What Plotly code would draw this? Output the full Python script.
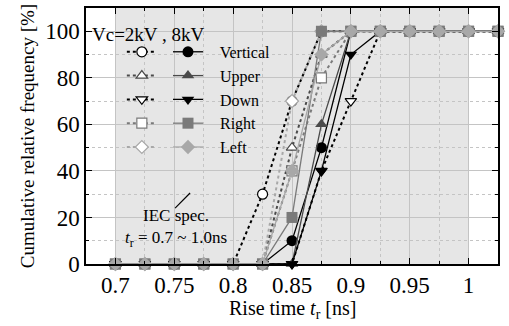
import plotly.graph_objects as go

# ---- data ----
rise_time = [0.7, 0.725, 0.75, 0.775, 0.8, 0.825, 0.85, 0.875, 0.9, 0.925, 0.95, 0.975, 1.0, 1.025]

series_names = ["Vertical", "Upper", "Down", "Right", "Left"]

# 2 kV (dotted, open markers)
v2_vertical = [0, 0, 0, 0, 0, 30, 70, 100, 100, 100, 100, 100, 100, 100]
v2_upper    = [0, 0, 0, 0, 0, 0, 50, 90, 100, 100, 100, 100, 100, 100]
v2_down     = [0, 0, 0, 0, 0, 0, 0, 40, 70, 100, 100, 100, 100, 100]
v2_right    = [0, 0, 0, 0, 0, 0, 40, 80, 100, 100, 100, 100, 100, 100]
v2_left     = [0, 0, 0, 0, 0, 0, 70, 100, 100, 100, 100, 100, 100, 100]

# 8 kV (solid, filled markers)
v8_vertical = [0, 0, 0, 0, 0, 0, 10, 50, 100, 100, 100, 100, 100, 100]
v8_upper    = [0, 0, 0, 0, 0, 0, 0, 60, 100, 100, 100, 100, 100, 100]
v8_down     = [0, 0, 0, 0, 0, 0, 0, 40, 90, 100, 100, 100, 100, 100]
v8_right    = [0, 0, 0, 0, 0, 0, 20, 100, 100, 100, 100, 100, 100, 100]
v8_left     = [0, 0, 0, 0, 0, 0, 40, 90, 100, 100, 100, 100, 100, 100]

x_ticks = [0.7, 0.75, 0.8, 0.85, 0.9, 0.95, 1.0]
x_tick_labels = ["0.7", "0.75", "0.8", "0.85", "0.9", "0.95", "1"]
y_ticks = [0, 20, 40, 60, 80, 100]
iec_spec = [0.7, 1.0]

# ---- styles ----
FONT = "Liberation Serif, Times New Roman, serif"
colors = {"Vertical": "#000000", "Upper": "#4a4a4a", "Down": "#000000",
          "Right": "#7a7a7a", "Left": "#a8a8a8"}
symbols = {"Vertical": "circle", "Upper": "triangle-up", "Down": "triangle-down",
           "Right": "square", "Left": "diamond"}

fig = go.Figure()

data2 = [v2_vertical, v2_upper, v2_down, v2_right, v2_left]
data8 = [v8_vertical, v8_upper, v8_down, v8_right, v8_left]

for name, ys in zip(series_names, data2):
    c = colors[name]
    fig.add_trace(go.Scatter(
        x=rise_time, y=ys, mode="lines+markers", name=" ",
        legend="legend", cliponaxis=False,
        line=dict(color=c, width=2, dash="3px,3px"),
        marker=dict(symbol=symbols[name], size=10, color="white",
                    line=dict(color=c, width=1.2)),
    ))

for name, ys in zip(series_names, data8):
    c = colors[name]
    fig.add_trace(go.Scatter(
        x=rise_time, y=ys, mode="lines+markers", name="   " + name,
        legend="legend2", cliponaxis=False,
        line=dict(color=c, width=1.3),
        marker=dict(symbol=symbols[name], size=11, color=c,
                    line=dict(color=c, width=0)),
    ))

fig.add_shape(type="rect", xref="x", yref="y",
              x0=iec_spec[0], x1=iec_spec[1], y0=0, y1=110,
              fillcolor="#e6e6e6", line=dict(width=0), layer="below")

# IEC annotation with leader line
fig.add_shape(type="line", xref="x", yref="y",
              x0=0.7507, y0=24, x1=0.7634, y1=30.5,
              line=dict(color="black", width=1.2))
fig.add_annotation(x=0.7515, y=15.5, xref="x", yref="y",
                   text="IEC spec.<br><i>t</i><sub>r</sub> = 0.7 ~ 1.0ns",
                   showarrow=False, align="center",
                   font=dict(family=FONT, size=17, color="black"))

fig.add_annotation(x=0.01, y=0.895, xref="paper", yref="paper",
                   xanchor="left", yanchor="middle", showarrow=False,
                   text="Vc=2kV , 8kV",
                   font=dict(family=FONT, size=19, color="black"))

# x-axis title placed as an annotation below the tick labels
fig.add_annotation(x=0.5, y=-0.178, xref="paper", yref="paper",
                   xanchor="center", yanchor="middle", showarrow=False,
                   text="Rise time <i>t</i><sub>r</sub> [ns]",
                   font=dict(family=FONT, size=20, color="black"))

axis_common = dict(
    showline=True, linecolor="black", linewidth=1.5, mirror="ticks",
    ticks="inside", ticklen=6, tickcolor="black", tickwidth=1,
    showgrid=True, gridcolor="#c4c4c4", gridwidth=1,
    zeroline=False, automargin=False,
    tickfont=dict(family=FONT, size=23, color="black"),
)

fig.update_xaxes(
    range=[0.675, 1.025], tickvals=x_ticks, ticktext=x_tick_labels,
    minor=dict(dtick=0.025, tick0=0.675, showgrid=True, gridcolor="#c4c4c4",
               griddash="dot", gridwidth=1, ticks="inside", ticklen=3,
               tickcolor="black"),
    **axis_common)

fig.update_yaxes(
    range=[0, 110], tickvals=y_ticks,
    minor=dict(dtick=10, showgrid=True, gridcolor="#c4c4c4",
               griddash="dot", gridwidth=1, ticks="inside", ticklen=3,
               tickcolor="black"),
    title=dict(text="Cumulative relative frequency [%]", standoff=6,
               font=dict(family=FONT, size=19, color="black")),
    **axis_common)

fig.update_layout(
    width=509, height=326,
    margin=dict(l=86, r=11, t=8, b=62),
    plot_bgcolor="white", paper_bgcolor="white",
    font=dict(family=FONT, color="black"),
    showlegend=True,
    legend=dict(x=0.087, y=0.895, xanchor="left", yanchor="top",
                bgcolor="rgba(0,0,0,0)", borderwidth=0,
                font=dict(family=FONT, size=16), tracegroupgap=0,
                itemwidth=30),
    legend2=dict(x=0.199, y=0.895, xanchor="left", yanchor="top",
                 bgcolor="rgba(0,0,0,0)", borderwidth=0,
                 font=dict(family=FONT, size=16), tracegroupgap=0,
                 itemwidth=30),
)

fig.write_html("out.html", config={"displayModeBar": False},
               post_script="document.body.style.margin='0';")
